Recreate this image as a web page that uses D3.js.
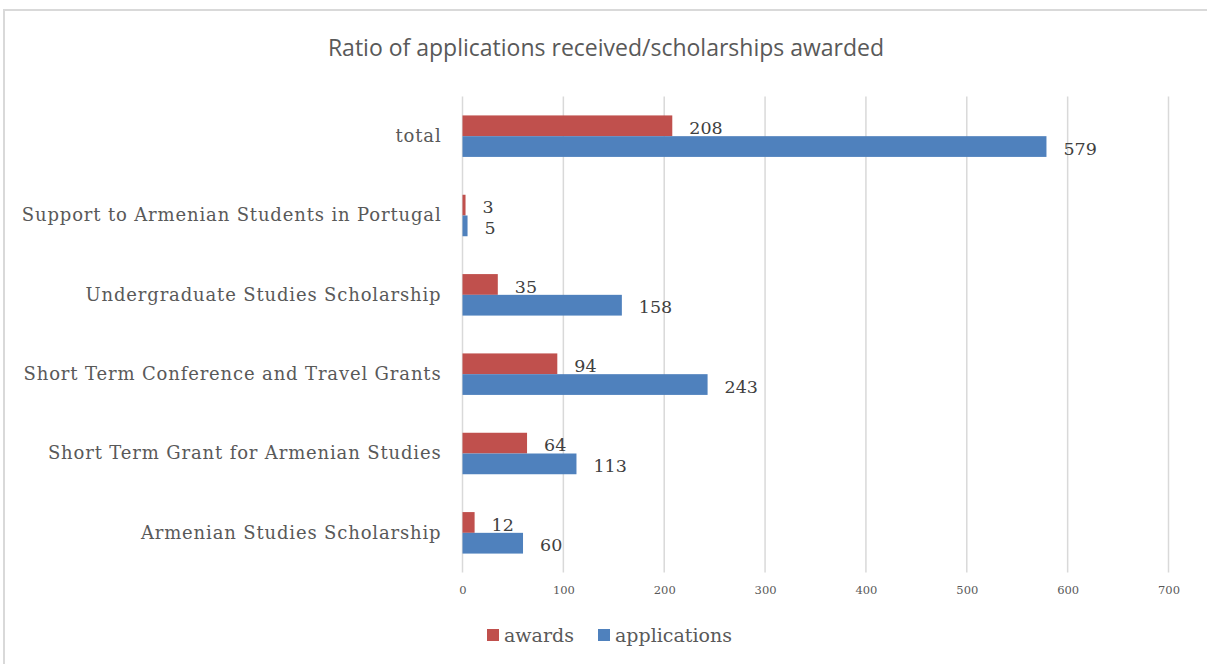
<!DOCTYPE html>
<html>
<head>
<meta charset="utf-8">
<script src="https://cdn.jsdelivr.net/npm/d3@7"></script>
<style>
  body { margin: 0; background: #fff; }
  svg { display: block; }
</style>
</head>
<body>
<div id="chart"></div>
<script>
// Chart data (top category first, as drawn)
const categories = [
    "total",
    "Support to Armenian Students in Portugal",
    "Undergraduate Studies Scholarship",
    "Short Term Conference and Travel Grants",
    "Short Term Grant for Armenian Studies",
    "Armenian Studies Scholarship"
];
const awards = [208, 3, 35, 94, 64, 12];
const applications = [579, 5, 158, 243, 113, 60];
const seriesNames = ["awards", "applications"];
const seriesColors = ["#C0504D", "#4F81BD"];
const xTicks = [0, 100, 200, 300, 400, 500, 600, 700];

const W = 1207, H = 664;
const plot = { left: 462.5, right: 1168.5, top: 96.5, bottom: 572.5 };
const serif = "'DejaVu Serif', serif";

const svg = d3.select("#chart")
    .append("svg")
    .attr("width", W)
    .attr("height", H);

// Outer frame (only top and left edges show in the picture)
svg.append("line")
    .attr("x1", 3).attr("x2", W).attr("y1", 10).attr("y2", 10)
    .attr("stroke", "#d9d9d9").attr("stroke-width", 2);
svg.append("line")
    .attr("x1", 4).attr("x2", 4).attr("y1", 10).attr("y2", H)
    .attr("stroke", "#d9d9d9").attr("stroke-width", 2);

// Title
svg.append("text")
    .attr("x", 606)
    .attr("y", 56)
    .attr("text-anchor", "middle")
    .style("font-family", "'Open Sans', sans-serif")
    .style("font-size", "23px")
    .style("fill", "#595959")
    .text("Ratio of applications received/scholarships awarded");

// Scales
const x = d3.scaleLinear()
    .domain([0, 700])
    .range([plot.left, plot.right]);

const y = d3.scaleBand()
    .domain(categories)
    .range([plot.top, plot.bottom]);

const inner = d3.scaleBand()
    .domain(seriesNames)
    .range([0, y.bandwidth() * 0.523]);

const innerOffset = (y.bandwidth() - y.bandwidth() * 0.523) / 2;

// Gridlines
svg.append("g")
    .selectAll("line")
    .data(xTicks)
    .enter().append("line")
    .attr("x1", d => x(d)).attr("x2", d => x(d))
    .attr("y1", plot.top).attr("y2", plot.bottom)
    .attr("stroke", "#d9d9d9")
    .attr("stroke-width", 1.5);

// x-axis tick labels
const xAxis = svg.append("g")
    .attr("transform", `translate(0,${plot.bottom})`)
    .call(d3.axisBottom(x).tickValues(xTicks).tickSize(0).tickPadding(13));
xAxis.select(".domain").remove();
xAxis.selectAll("text")
    .style("font-family", serif)
    .style("font-size", "11.5px")
    .style("fill", "#595959");

// Category labels
const yAxis = svg.append("g")
    .attr("transform", `translate(${plot.left},0)`)
    .call(d3.axisLeft(y).tickSize(0).tickPadding(21));
yAxis.select(".domain").remove();
yAxis.selectAll("text")
    .style("font-family", serif)
    .style("font-size", "18px")
    .style("letter-spacing", "0.85px")
    .style("fill", "#595959");

// Bars
const rows = categories.map((c, i) => ({
    category: c,
    values: [
        { key: "awards", value: awards[i] },
        { key: "applications", value: applications[i] }
    ]
}));

const groups = svg.append("g")
    .selectAll("g")
    .data(rows)
    .enter().append("g")
    .attr("transform", d => `translate(0,${y(d.category) + innerOffset})`);

groups.selectAll("rect")
    .data(d => d.values)
    .enter().append("rect")
    .attr("x", x(0))
    .attr("y", d => inner(d.key))
    .attr("width", d => x(d.value) - x(0))
    .attr("height", inner.bandwidth())
    .attr("fill", (d, i) => seriesColors[i]);

// Value labels
groups.selectAll("text")
    .data(d => d.values)
    .enter().append("text")
    .attr("x", d => x(d.value) + 17)
    .attr("y", d => inner(d.key) + inner.bandwidth() / 2 + 2)
    .attr("dy", "0.35em")
    .style("font-family", serif)
    .style("font-size", "17.5px")
    .style("fill", "#404040")
    .text(d => d.value);

// Legend
const legend = svg.append("g");
const legendX = [487, 598];
seriesNames.forEach((name, i) => {
    legend.append("rect")
        .attr("x", legendX[i])
        .attr("y", 629)
        .attr("width", 12)
        .attr("height", 12)
        .attr("fill", seriesColors[i]);
    legend.append("text")
        .attr("x", legendX[i] + 17)
        .attr("y", 642)
        .style("font-family", serif)
        .style("font-size", "19px")
        .style("fill", "#595959")
        .text(name);
});
</script>
</body>
</html>
